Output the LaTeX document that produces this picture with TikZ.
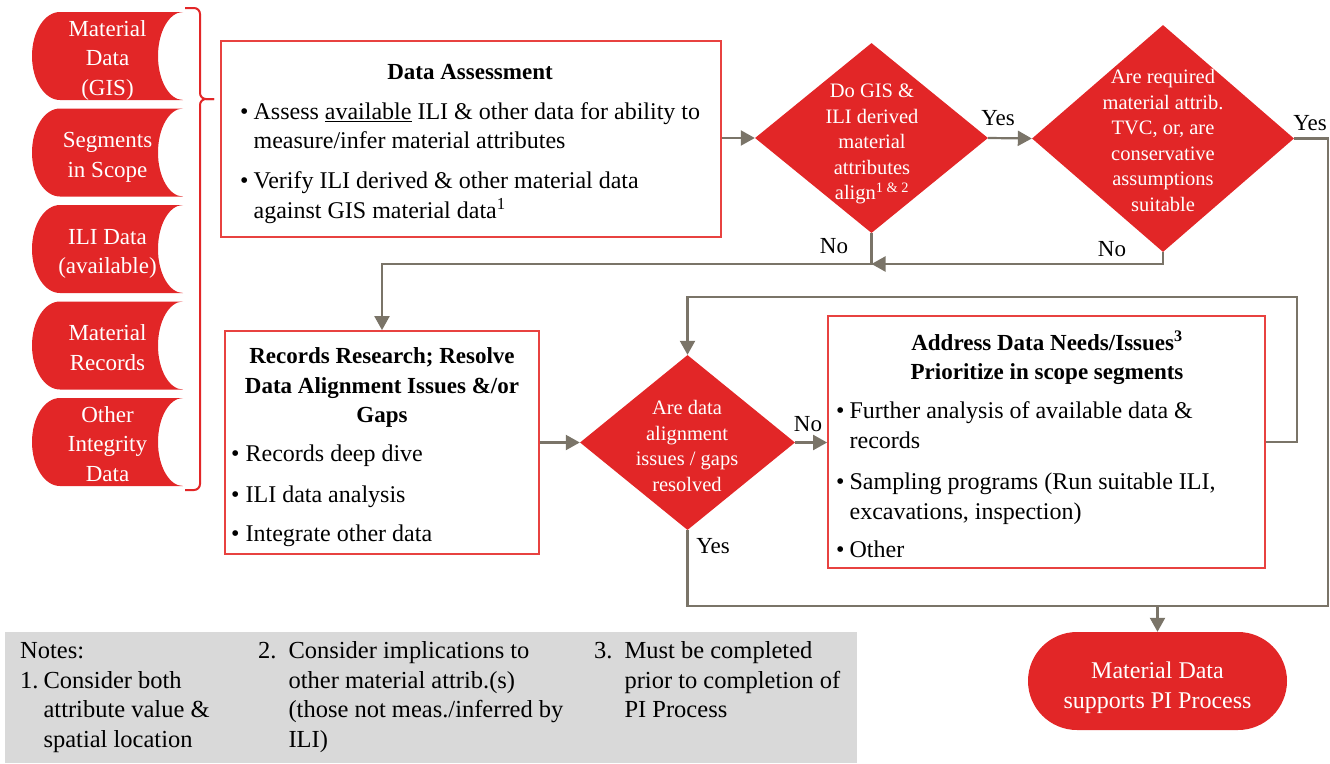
\documentclass[tikz,border=0pt]{standalone}
\usepackage{fontspec}
\setmainfont{Liberation Serif}
\usetikzlibrary{shapes.geometric,arrows.meta}
\definecolor{myred}{RGB}{226,38,39}
\definecolor{bred}{RGB}{232,66,64}
\definecolor{lgray}{RGB}{122,116,104}
\definecolor{notegray}{RGB}{217,217,217}
\newcommand{\bodyfs}{\fontsize{24}{29.5}\selectfont}
\newcommand{\titlefs}{\fontsize{23}{29.5}\selectfont}
\newcommand{\notefs}{\fontsize{24.5}{29.5}\selectfont}
\tikzset{
  box/.style={draw=bred, line width=1.8pt, fill=white, inner sep=0pt},
  dia/.style={diamond, fill=myred, inner sep=0pt},
  termbox/.style={rectangle, rounded corners=49pt, fill=myred, inner sep=0pt},
  conn/.style={draw=lgray, line width=2.2pt, -{Triangle[length=14pt,width=15pt]}},
  wire/.style={draw=lgray, line width=2.2pt},
  body/.style={inner sep=0pt, font=\bodyfs, anchor=west},
  ttl/.style={inner sep=0pt, font=\titlefs\bfseries, align=center},
  dtxt/.style={inner sep=0pt, text=white, font=\fontsize{20.5}{25.5}\selectfont, align=center},
  lbl/.style={inner sep=0pt, font=\fontsize{23}{28}\selectfont},
  stxt/.style={inner sep=0pt, text=white, font=\titlefs, align=center},
  ttxt/.style={inner sep=0pt, text=white, font=\bodyfs, align=center},
  notetxt/.style={inner sep=0pt, font=\notefs, anchor=west},
  brace/.style={draw=myred, line width=2pt, rounded corners=6pt},
}
\begin{document}
\begin{tikzpicture}[x=1pt,y=-1pt]
\useasboundingbox (0,0) rectangle (1330,763);

% source shapes
\foreach \t/\txt [count=\i] in {12/{\strut Material\\Data\\(GIS)\strut},
  108.5/{\strut Segments\\in Scope\strut},
  205/{\strut ILI Data\\(available)\strut},
  301.5/{\strut Material\\Records\strut},
  398/{\strut Other\\Integrity\\Data\strut}} {
  \path[fill=myred] (60,\t) -- (183,\t)
    .. controls (169.2,\t) and (158,\t+19.7) .. (158,\t+44)
    .. controls (158,\t+68.3) and (169.2,\t+88) .. (183,\t+88)
    -- (60,\t+88)
    .. controls (44.5,\t+88) and (32,\t+68.3) .. (32,\t+44)
    .. controls (32,\t+19.7) and (44.5,\t) .. (60,\t) -- cycle;
  \node[stxt] (src\i) at (107.5,\t+48) {\txt};
}
% brace
\draw[brace] (185,8) -- (200,8) -- (200,99) -- (214,99);
\draw[brace] (214,99) -- (200,99) -- (200,490) -- (185,490);

% notes
\fill[notegray] (5,632) rectangle (857,763);
\node[notetxt] (n1) at (20,697) {\begin{tabular}{@{}l@{\hspace{5pt}}l@{}}
\multicolumn{2}{@{}l@{}}{Notes:}\\
1. & Consider both\\
 & attribute value \&\\
 & spatial location\end{tabular}};
\node[notetxt] (n2) at (258,697) {\begin{tabular}{@{}l@{\hspace{12pt}}l@{}}
2. & Consider implications to\\
 & other material attrib.(s)\\
 & (those not meas./inferred by\\
 & ILI)\end{tabular}};
\node[notetxt] (n3) at (594,682.5) {\begin{tabular}{@{}l@{\hspace{12pt}}l@{}}
3. & Must be completed\\
 & prior to completion of\\
 & PI Process\end{tabular}};

% boxes
\node[box, minimum width=500pt, minimum height=196pt] (da) at (471,139) {};
\node[ttl] (datitle) at (470,74) {\strut Data Assessment\strut};
\node[body] (dabody) at (240,163) {\begin{tabular}{@{}l@{\hspace{5pt}}l@{}}
\textbullet & Assess \underline{available} ILI \& other data for ability to\\
 & measure/infer material attributes\\[10.5pt]
\textbullet & Verify ILI derived \& other material data\\
 & against GIS material data\textsuperscript{1}\end{tabular}};

\node[box, minimum width=314pt, minimum height=223pt] (rec) at (382,442.5) {};
\node[ttl] (rectitle) at (382,387.5) {\strut Records Research; Resolve\\Data Alignment Issues \&/or\\Gaps\strut};
\node[body] (recbody) at (231,496) {\begin{tabular}{@{}l@{\hspace{6pt}}l@{}}
\textbullet & Records deep dive\\[11pt]
\textbullet & ILI data analysis\\[10pt]
\textbullet & Integrate other data\end{tabular}};

\node[box, minimum width=437pt, minimum height=252pt] (addr) at (1046.5,442) {};
\node[ttl] (addrtitle) at (1047,359) {\strut Address Data Needs/Issues\textsuperscript{3}\\Prioritize in scope segments\strut};
\node[body] (addrbody) at (836,482) {\begin{tabular}{@{}l@{\hspace{5pt}}l@{}}
\textbullet & Further analysis of available data \&\\
 & records\\[12pt]
\textbullet & Sampling programs (Run suitable ILI,\\
 & excavations, inspection)\\[8.5pt]
\textbullet & Other\end{tabular}};

% diamonds
\node[dia, minimum width=233pt, minimum height=190pt] (d1) at (871.5,138) {};
\node[dtxt] (d1t) at (872,143.5) {\strut Do GIS \&\\ILI derived\\material\\attributes\\align\textsuperscript{1 \& 2}\strut};
\node[dia, minimum width=262pt, minimum height=227pt] (d2) at (1163,138.5) {};
\node[dtxt] (d2t) at (1163,142.5) {\strut Are required\\material attrib.\\TVC, or, are\\conservative\\assumptions\\suitable\strut};
\node[dia, minimum width=215pt, minimum height=175pt] (d3) at (687.5,442.5) {};
\node[dtxt] (d3t) at (687,448) {\strut Are data\\alignment\\issues / gaps\\resolved\strut};

% terminal
\node[termbox, minimum width=259pt, minimum height=98pt] (term) at (1157.5,681) {};
\node[ttxt] (termt) at (1157.5,687.5) {\strut Material Data\\supports PI Process\strut};

% junction coordinates
\coordinate (j1) at (871.5,264);
\coordinate (rc) at (1328,606);
\coordinate (lt) at (1297,297);

% connectors
\draw[conn] (da.east |- d1.west) -- (d1.west);
\draw[conn] (d1.east) -- (d2.west);
\draw[conn] (d1.south) -- (j1) -| (rec.north);
\draw[conn] (d2.south) |- (j1);
\draw[conn] (rec.east |- d3.west) -- (d3.west);
\draw[conn] (d3.east) -- (addr.west |- d3.east);
\draw[conn] (addr.east) -| (lt) -| (d3.north);
\draw[wire] (d2.east) -| (rc) -- (d3.south |- rc) -- (d3.south);
\draw[conn] (term.north |- rc) -- (term.north);

% labels
\node[lbl] (ly1) at (998,118) {Yes};
\node[lbl] (ly2) at (1310,123) {Yes};
\node[lbl] (ln1) at (834,246) {No};
\node[lbl] (ln2) at (1112,249) {No};
\node[lbl] (ln3) at (808,424) {No};
\node[lbl] (ly3) at (713,546) {Yes};
\end{tikzpicture}
\end{document}
